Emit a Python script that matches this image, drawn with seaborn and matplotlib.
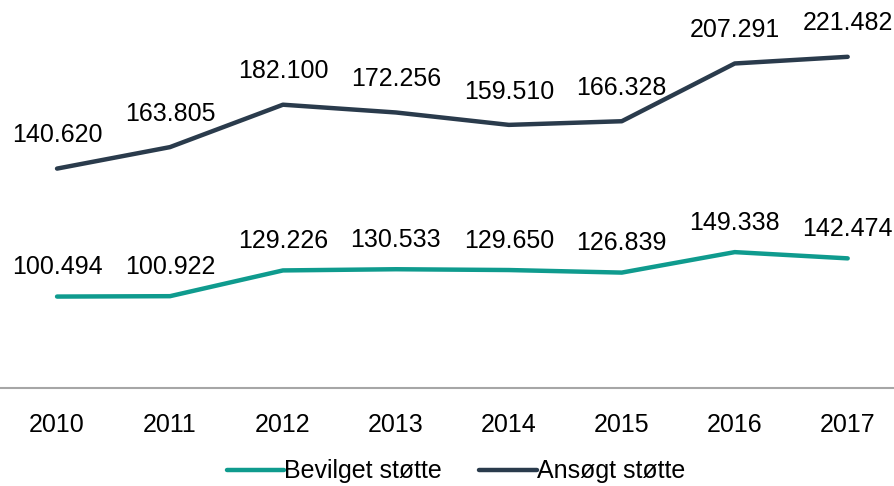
import numpy as np
import pandas as pd
import seaborn as sns
import matplotlib.pyplot as plt

years = ["2010", "2011", "2012", "2013", "2014", "2015", "2016", "2017"]
bevilget = [100.494, 100.922, 129.226, 130.533, 129.650, 126.839, 149.338, 142.474]
ansogt = [140.620, 163.805, 182.100, 172.256, 159.510, 166.328, 207.291, 221.482]

teal = "#0f9b8e"
navy = "#2a3b4c"

sns.set_style("white")
plt.rcParams["font.family"] = ["Liberation Sans", "DejaVu Sans"]
plt.rcParams["text.color"] = "black"
plt.rcParams["xtick.color"] = "black"

# stacked lines: second series sits on top of the first
df = pd.DataFrame({"pos": range(len(years)), "Bevilget støtte": bevilget,
                   "Ansøgt støtte": np.array(bevilget) + np.array(ansogt)})

fig = plt.figure(figsize=(8.94, 4.86), dpi=100)
ax = fig.add_axes([0, 0.2016, 1, 0.749])

sns.lineplot(data=df, x="pos", y="Bevilget støtte", color=teal, lw=3.2,
             ax=ax, label="Bevilget støtte")
sns.lineplot(data=df, x="pos", y="Ansøgt støtte", color=navy, lw=3.2,
             ax=ax, label="Ansøgt støtte")

fmt = lambda v: f"{v:.3f}"
for i in range(len(years)):
    ax.annotate(fmt(bevilget[i]), (i, df["Bevilget støtte"][i]), xytext=(0, 21),
                textcoords="offset points", ha="center", va="center", fontsize=18)
    ax.annotate(fmt(ansogt[i]), (i, df["Ansøgt støtte"][i]), xytext=(0, 24),
                textcoords="offset points", ha="center", va="center", fontsize=18)

ax.set_xlim(-0.505, 7.41)
ax.set_ylim(0, 400)
ax.set_xticks(range(len(years)))
ax.set_xticklabels(years, fontsize=18)
ax.tick_params(axis="x", length=0, pad=18)
ax.set_yticks([])
ax.set_xlabel("")
ax.set_ylabel("")
for s in ["top", "right", "left"]:
    ax.spines[s].set_visible(False)
ax.spines["bottom"].set_color("#a6a6a6")
ax.spines["bottom"].set_linewidth(1.5)

ax.legend(loc="center", bbox_to_anchor=(0.51, 0.03), bbox_transform=fig.transFigure,
          ncol=2, frameon=False, fontsize=18, handlelength=2.3,
          handletextpad=0.0, columnspacing=1.5)

fig.savefig("out.png", dpi=100)
